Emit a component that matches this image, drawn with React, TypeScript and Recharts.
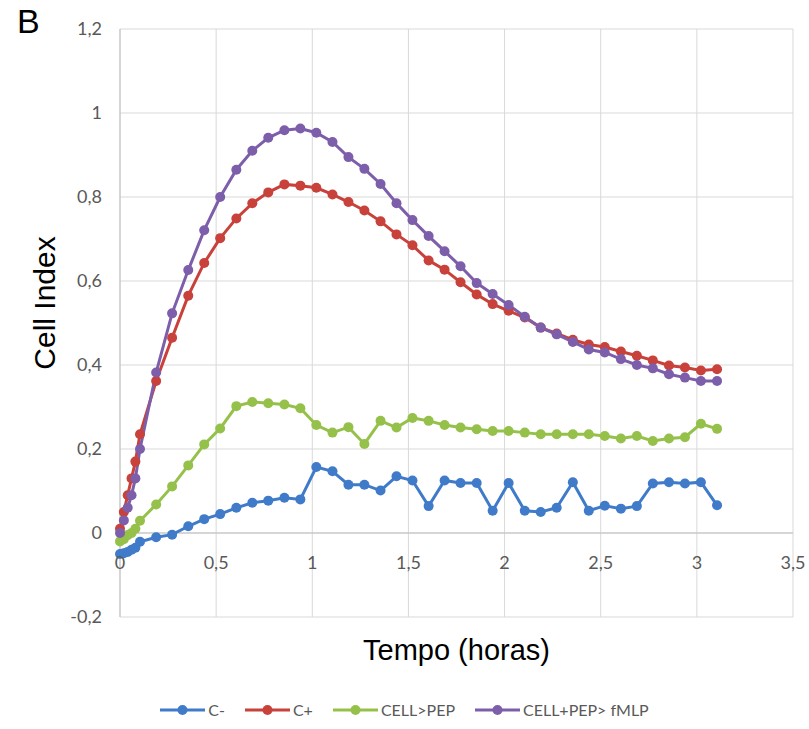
import React from 'react'
import { LineChart, Line, XAxis, YAxis, CartesianGrid, ReferenceLine, Legend } from 'recharts'

// tempo (horas)
const times = [
  0, 0.02, 0.04, 0.06, 0.08, 0.104,
  0.188, 0.271, 0.355, 0.438, 0.521, 0.605, 0.688, 0.771, 0.855, 0.938,
  1.021, 1.105, 1.188, 1.271, 1.355, 1.438, 1.521, 1.605, 1.688, 1.771,
  1.855, 1.938, 2.021, 2.105, 2.188, 2.271, 2.355, 2.438, 2.521, 2.605,
  2.688, 2.771, 2.855, 2.938, 3.021, 3.105,
]

const cNeg = [
  -0.05, -0.048, -0.045, -0.04, -0.035, -0.021,
  -0.01, -0.004, 0.016, 0.033, 0.045, 0.06, 0.072, 0.077, 0.084, 0.08,
  0.157, 0.147, 0.115, 0.115, 0.101, 0.135, 0.125, 0.064, 0.125, 0.119,
  0.119, 0.053, 0.119, 0.053, 0.05, 0.06, 0.121, 0.053, 0.065, 0.058,
  0.064, 0.118, 0.121, 0.118, 0.121, 0.066,
]

const cPos = [
  0.01, 0.05, 0.09, 0.13, 0.17, 0.235,
  0.362, 0.465, 0.565, 0.643, 0.702, 0.749, 0.785, 0.811, 0.83, 0.827,
  0.822, 0.806, 0.788, 0.768, 0.742, 0.711, 0.685, 0.649, 0.627, 0.597,
  0.568, 0.545, 0.529, 0.513, 0.489, 0.475, 0.46, 0.449, 0.443, 0.432,
  0.422, 0.411, 0.399, 0.394, 0.387, 0.39,
]

const cellPep = [
  -0.02, -0.015, -0.005, 0.0, 0.01, 0.029,
  0.068, 0.111, 0.161, 0.211, 0.249, 0.302, 0.312, 0.309, 0.306, 0.297,
  0.257, 0.239, 0.252, 0.212, 0.267, 0.251, 0.274, 0.267, 0.257, 0.251,
  0.247, 0.243, 0.243, 0.239, 0.235, 0.235, 0.235, 0.235, 0.231, 0.225,
  0.231, 0.219, 0.225, 0.228, 0.26, 0.248,
]

const cellPepFmlp = [
  0.0, 0.03, 0.06, 0.09, 0.13, 0.2,
  0.382, 0.523, 0.626, 0.721, 0.8, 0.865, 0.91, 0.941, 0.959, 0.963,
  0.953, 0.931, 0.895, 0.867, 0.831, 0.785, 0.745, 0.707, 0.671, 0.635,
  0.595, 0.569, 0.543, 0.515, 0.489, 0.473, 0.455, 0.437, 0.43, 0.414,
  0.4, 0.392, 0.378, 0.37, 0.362, 0.362,
]

const xTicks = [0, 0.5, 1, 1.5, 2, 2.5, 3, 3.5]
const yTicks = [-0.2, 0, 0.2, 0.4, 0.6, 0.8, 1, 1.2]

const series = [
  { key: 'cNeg', name: 'C-', color: '#3F7BC9' },
  { key: 'cPos', name: 'C+', color: '#C8413B' },
  { key: 'cellPep', name: 'CELL>PEP', color: '#95C14B' },
  { key: 'cellPepFmlp', name: 'CELL+PEP> fMLP', color: '#7D5EAA' },
]

const data = times.map((t, i) => ({
  t,
  cNeg: cNeg[i],
  cPos: cPos[i],
  cellPep: cellPep[i],
  cellPepFmlp: cellPepFmlp[i],
}))

const fmt = (v: number) => String(v).replace('.', ',')

const XTick = (props: any) => {
  const { x, y, payload } = props
  // labels sit just under the zero line, not at the bottom of the plot
  return (
    <text x={x} y={y - 48} textAnchor="middle" fill="#595959" fontSize={18} fontFamily="Lato">
      {fmt(payload.value)}
    </text>
  )
}

const renderLegend = () => (
  <div style={{ display: 'flex', justifyContent: 'center', alignItems: 'center', fontFamily: 'Lato', fontSize: 16, color: '#595959' }}>
    {series.map((s, i) => (
      <div key={s.key} style={{ display: 'flex', alignItems: 'center', marginRight: i < series.length - 1 ? 20 : 0 }}>
        <svg width={45} height={14} style={{ marginRight: 3 }}>
          <line x1={0} y1={7} x2={45} y2={7} stroke={s.color} strokeWidth={3} />
          <circle cx={22.5} cy={7} r={5} fill={s.color} />
        </svg>
        <span>{s.name}</span>
      </div>
    ))}
  </div>
)

export default function App() {
  return (
    <div style={{ position: 'absolute', left: 0, top: 0, width: 809, height: 729, background: '#fff' }}>
      <div style={{ position: 'absolute', left: 17, top: 2, fontFamily: 'Liberation Sans', fontSize: 34, color: '#000' }}>B</div>
      <div
        style={{
          position: 'absolute', left: 45, top: 303, transform: 'translate(-50%, -50%) rotate(-90deg)',
          fontFamily: 'Liberation Sans', fontSize: 30, color: '#000', whiteSpace: 'nowrap',
        }}
      >
        Cell Index
      </div>
      <LineChart width={809} height={729} data={data} margin={{ top: 29, right: 16, left: 20, bottom: 36 }}>
        <CartesianGrid stroke="#D9D9D9" />
        <XAxis
          dataKey="t"
          type="number"
          domain={[0, 3.5]}
          ticks={xTicks}
          height={52}
          axisLine={false}
          tickLine={false}
          tickSize={0}
          tickMargin={0}
          tick={<XTick />}
          interval={0}
          label={{ value: 'Tempo (horas)', position: 'insideBottom', offset: 9, fill: '#000', fontSize: 29, fontFamily: 'Liberation Sans' }}
        />
        <YAxis
          type="number"
          domain={[-0.2, 1.2]}
          ticks={yTicks}
          width={100}
          interval={0}
          axisLine={{ stroke: '#BFBFBF' }}
          tickLine={false}
          tickSize={0}
          tickMargin={18}
          tickFormatter={fmt}
          tick={{ fill: '#595959', fontSize: 18, fontFamily: 'Lato' }}
        />
        <ReferenceLine y={0} stroke="#BFBFBF" strokeWidth={1} />
        <Legend verticalAlign="bottom" height={24} wrapperStyle={{ top: 700, bottom: 'auto', left: 0, width: 809 }} content={renderLegend} />
        {series.map((s) => (
          <Line
            key={s.key}
            type="linear"
            dataKey={s.key}
            name={s.name}
            stroke={s.color}
            strokeWidth={3}
            dot={{ r: 5, fill: s.color, stroke: s.color, strokeWidth: 0 }}
            activeDot={false}
            isAnimationActive={false}
          />
        ))}
      </LineChart>
    </div>
  )
}
